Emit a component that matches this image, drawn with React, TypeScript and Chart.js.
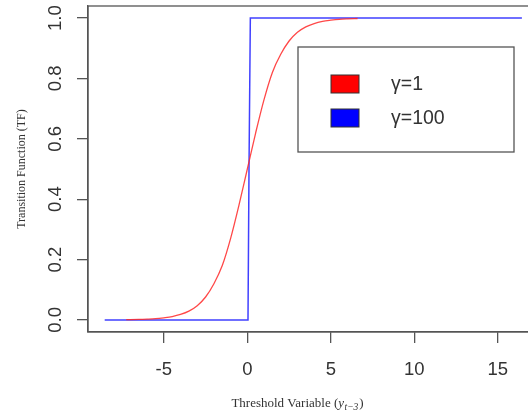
import React, { useEffect, useRef } from "react";
import { Chart, registerables } from "chart.js";

Chart.register(...registerables);

// gamma = 1 transition
const redX = [-7.25, -6.5, -6, -5.5, -5, -4.5, -4, -3.5, -3, -2.5, -2, -1.5, -1, -0.5, 0, 0.5, 1, 1.5, 2, 2.5, 3, 3.5, 4, 4.5, 5, 5.5, 6, 6.6];
const redY = [0.001, 0.0015, 0.0025, 0.004, 0.007, 0.011, 0.018, 0.029, 0.047, 0.076, 0.12, 0.18, 0.27, 0.38, 0.5, 0.62, 0.73, 0.82, 0.88, 0.924, 0.953, 0.971, 0.982, 0.989, 0.993, 0.996, 0.9975, 0.9986];
// gamma = 100 transition
const blueX = [-8.54, 0.04, 0.1, 0.18, 16.44];
const blueY = [0, 0, 0.5, 1, 1];

const seriesLabels = ["γ=1", "γ=100"];
const seriesColors = ["#ff0000", "#0000ff"];
const lineColors = ["rgba(255,40,40,0.85)", "rgba(30,30,255,0.85)"];

const xTicks = [-5, 0, 5, 10, 15];
const yTicks = [0, 0.2, 0.4, 0.6, 0.8, 1.0];
const xRange = [-9.54, 17.44];
const yRange = [-0.04, 1.04];

const yTitle = "Transition Function (TF)";
const xTitleMain = "Threshold Variable (";
const xTitleVar = "y";
const xTitleSub = "t−3";
const xTitleEnd = ")";

const CW = 545;
const CH = 416;

const boxPlugin = {
  id: "rbox",
  afterDraw(chart: any) {
    const ctx = chart.ctx;
    const a = chart.chartArea;
    ctx.save();
    // plot box
    ctx.strokeStyle = "#555";
    ctx.lineWidth = 1.3;
    ctx.strokeRect(a.left, a.top, a.right - a.left, a.bottom - a.top);

    // legend
    const lx = 298, ly = 47, lw = 216, lh = 105;
    ctx.fillStyle = "#fff";
    ctx.fillRect(lx, ly, lw, lh);
    ctx.strokeStyle = "#555";
    ctx.lineWidth = 1.3;
    ctx.strokeRect(lx, ly, lw, lh);
    ctx.font = "19.5px 'Liberation Sans', Arial, sans-serif";
    ctx.textBaseline = "middle";
    ctx.textAlign = "left";
    seriesLabels.forEach((lab, i) => {
      const cy = 84 + i * 34;
      ctx.fillStyle = seriesColors[i];
      ctx.fillRect(331, cy - 9, 28, 18);
      ctx.strokeStyle = "#333";
      ctx.lineWidth = 1;
      ctx.strokeRect(331, cy - 9, 28, 18);
      ctx.fillStyle = "#333";
      ctx.fillText(lab, 391, cy + 1);
    });

    // x title with subscript
    const fMain = "13px 'Liberation Serif', 'Times New Roman', serif";
    const fVar = "italic 13px 'Liberation Serif', 'Times New Roman', serif";
    const fSub = "italic 9.5px 'Liberation Serif', 'Times New Roman', serif";
    ctx.fillStyle = "#333";
    ctx.textBaseline = "alphabetic";
    ctx.font = fMain;
    const w1 = ctx.measureText(xTitleMain).width;
    const w4 = ctx.measureText(xTitleEnd).width;
    ctx.font = fVar;
    const w2 = ctx.measureText(xTitleVar).width + 0.5;
    ctx.font = fSub;
    const w3 = ctx.measureText(xTitleSub).width + 1;
    const total = w1 + w2 + w3 + w4;
    let x = 297.5 - total / 2;
    const by = 407;
    ctx.font = fMain;
    ctx.fillText(xTitleMain, x, by);
    x += w1;
    ctx.font = fVar;
    ctx.fillText(xTitleVar, x, by);
    x += w2;
    ctx.font = fSub;
    ctx.fillText(xTitleSub, x, by + 3);
    x += w3;
    ctx.font = fMain;
    ctx.fillText(xTitleEnd, x, by);
    ctx.restore();
  },
};

export default function App() {
  const ref = useRef<HTMLCanvasElement | null>(null);
  useEffect(() => {
    if (!ref.current) return;
    const chart = new Chart(ref.current, {
      type: "line",
      data: {
        datasets: [
          {
            label: seriesLabels[0],
            data: redX.map((x, i) => ({ x, y: redY[i] })),
            borderColor: lineColors[0],
            borderWidth: 1.3,
            pointRadius: 0,
            fill: false,
            cubicInterpolationMode: "monotone",
          },
          {
            label: seriesLabels[1],
            data: blueX.map((x, i) => ({ x, y: blueY[i] })),
            borderColor: lineColors[1],
            borderWidth: 1.5,
            pointRadius: 0,
            fill: false,
            tension: 0,
          },
        ],
      },
      options: {
        animation: false,
        responsive: false,
        devicePixelRatio: 1,
        layout: { padding: { left: 0, top: 6, right: CW - 538.6, bottom: 0 } },
        plugins: { legend: { display: false }, tooltip: { enabled: false } },
        scales: {
          x: {
            type: "linear",
            min: xRange[0],
            max: xRange[1],
            afterBuildTicks: (s: any) => {
              s.ticks = xTicks.map((v) => ({ value: v }));
            },
            afterFit: (s: any) => {
              s.height = 84;
              s.paddingLeft = 0;
              s.paddingRight = 0;
            },
            grid: { display: true, drawOnChartArea: false, drawTicks: true, tickLength: 11, color: "#555", lineWidth: 1.3 },
            border: { display: true, color: "#555", width: 1.3 },
            ticks: {
              autoSkip: false,
              maxRotation: 0,
              padding: 16,
              color: "#333",
              font: { family: "'Liberation Sans', Arial, sans-serif", size: 18.5 },
              callback: (v: any) => String(v),
            },
          },
          y: {
            type: "linear",
            min: yRange[0],
            max: yRange[1],
            afterBuildTicks: (s: any) => {
              s.ticks = yTicks.map((v) => ({ value: v }));
            },
            afterFit: (s: any) => {
              s.width = 88;
              s.paddingTop = 0;
              s.paddingBottom = 0;
            },
            grid: { display: true, drawOnChartArea: false, drawTicks: true, tickLength: 11, color: "#555", lineWidth: 1.3 },
            border: { display: true, color: "#555", width: 1.3 },
            title: {
              display: true,
              text: yTitle,
              color: "#333",
              font: { family: "'Liberation Serif', 'Times New Roman', serif", size: 12 },
              padding: { top: 15, bottom: 0 },
            },
            ticks: {
              autoSkip: false,
              minRotation: 90,
              maxRotation: 90,
              crossAlign: "center",
              padding: 8,
              color: "#333",
              font: { family: "'Liberation Sans', Arial, sans-serif", size: 18.5 },
              callback: (v: any) => Number(v).toFixed(1),
            },
          },
        },
      },
      plugins: [boxPlugin],
    } as any);
    return () => chart.destroy();
  }, []);

  return (
    <div style={{ position: "fixed", left: 0, top: 0, width: 528, height: 416, overflow: "hidden", background: "#fff" }}>
      <canvas ref={ref} width={CW} height={CH} style={{ width: CW, height: CH, display: "block" }} />
    </div>
  );
}
